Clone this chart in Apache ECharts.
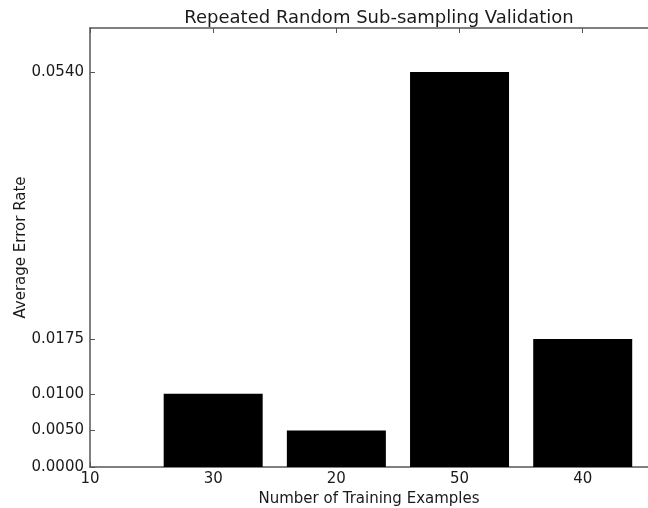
<!DOCTYPE html>
<html>
<head>
<meta charset="utf-8">
<script src="https://cdn.jsdelivr.net/npm/echarts@6/dist/echarts.min.js"></script>
<style>
  html, body { margin: 0; padding: 0; background: #fff; }
  #chart { width: 648px; height: 508px; }
</style>
</head>
<body>
<div id="chart"></div>
<script>
// chart data
const categories = ['10', '30', '20', '50', '40'];
const errorRates = [0, 0.0100, 0.0050, 0.0540, 0.0175];
const yTicks = [0, 0.0050, 0.0100, 0.0175, 0.0540];
const xTicks = [0, 1, 2, 3, 4];

const font = 'DejaVu Sans';
const ink = '#1a1a1a';
const spine = '#555';
const xMax = 4.53; // plot runs past the right edge of the picture

const chart = echarts.init(document.getElementById('chart'));

const spineLine = { show: true, onZero: false, lineStyle: { color: spine, width: 1.5 } };
const inTick = (vals) => ({ show: true, inside: true, length: 5, customValues: vals, lineStyle: { color: spine } });

chart.setOption({
    animation: false,
    backgroundColor: '#fff',
    textStyle: { fontFamily: font },
    title: {
        text: 'Repeated Random Sub-sampling Validation',
        left: 374, top: 4, textAlign: 'center',
        textStyle: { fontFamily: font, fontSize: 18, fontWeight: 'normal', color: ink }
    },
    grid: { left: 90, right: 0, top: 28, bottom: 41, outerBoundsMode: 'none' },
    xAxis: [
        {
            type: 'value', min: 0, max: xMax, interval: 1,
            name: 'Number of Training Examples', nameLocation: 'middle', nameGap: 25,
            nameMoveOverlap: false,
            nameTextStyle: { fontFamily: font, fontSize: 15, color: ink },
            axisLine: spineLine,
            axisTick: inTick(xTicks),
            splitLine: { show: false },
            axisLabel: {
                customValues: xTicks, margin: 5,
                fontFamily: font, fontSize: 15, color: ink,
                formatter: v => categories[Math.round(v)] || ''
            }
        },
        {
            type: 'value', position: 'top', min: 0, max: xMax, interval: 1,
            axisLine: spineLine, axisTick: inTick(xTicks),
            axisLabel: { show: false }, splitLine: { show: false }
        }
    ],
    yAxis: [
        {
            type: 'value', min: 0, max: 0.06,
            name: 'Average Error Rate', nameLocation: 'middle', nameGap: 61,
            nameMoveOverlap: false,
            nameTextStyle: { fontFamily: font, fontSize: 15, color: ink },
            axisLine: spineLine,
            axisTick: inTick(yTicks),
            splitLine: { show: false },
            axisLabel: {
                customValues: yTicks, margin: 6,
                fontFamily: font, fontSize: 15, color: ink,
                formatter: v => v.toFixed(4)
            }
        },
        {
            type: 'value', position: 'right', min: 0, max: 0.06,
            axisLine: { show: false }, axisTick: { show: false },
            axisLabel: { show: false }, splitLine: { show: false }
        }
    ],
    series: [
        {
            type: 'bar',
            xAxisIndex: 0, yAxisIndex: 0,
            barWidth: 99,
            clip: true,
            itemStyle: { color: '#000' },
            data: errorRates.map((v, i) => [i, v])
        }
    ]
});
</script>
</body>
</html>
